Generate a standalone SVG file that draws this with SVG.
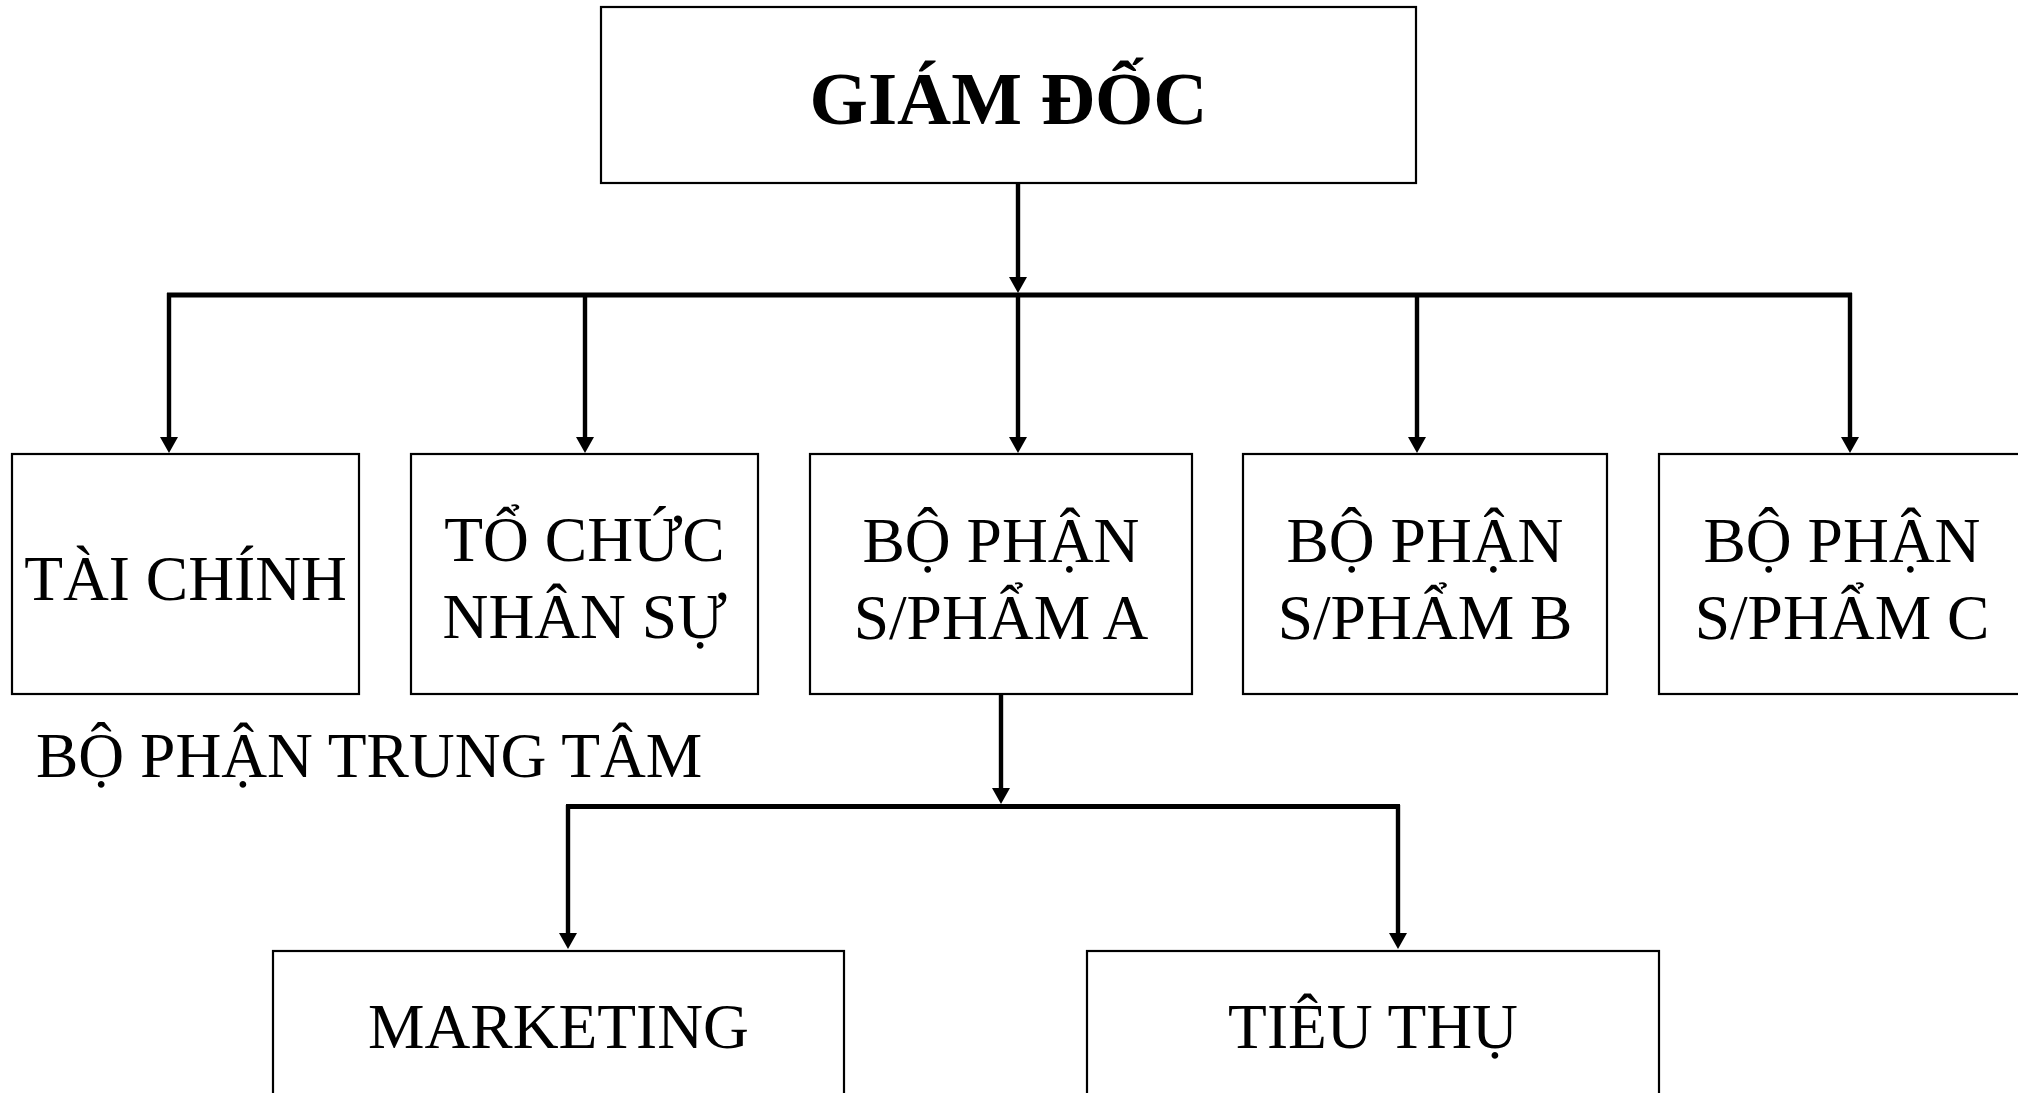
<svg xmlns="http://www.w3.org/2000/svg" width="2018" height="1093" viewBox="0 0 2018 1093">
<style>
  .box { fill: #ffffff; stroke: #000000; stroke-width: 2.2; }
  .t { font-family: "Liberation Serif", "Times New Roman", serif; font-size: 63.5px; fill: #000000; text-anchor: middle; }
  .title { font-family: "Liberation Serif", "Times New Roman", serif; font-size: 75px; font-weight: bold; fill: #000000; text-anchor: middle; }
  .bus { stroke: #000000; stroke-width: 5; fill: none; }
  .ln { stroke: #000000; stroke-width: 4.4; fill: none; }
</style>
<defs>
  <marker id="arr" markerUnits="userSpaceOnUse" markerWidth="16" markerHeight="18" viewBox="0 0 16 18" refX="0" refY="9" orient="auto">
    <path d="M0,0 L16,9 L0,18 z" fill="#000000"/>
  </marker>
</defs>
<rect width="2018" height="1093" fill="#ffffff"/>

<g id="connectors">
  <line class="ln" x1="1018" y1="183" x2="1018" y2="277" marker-end="url(#arr)"/>
  <line class="bus" x1="167" y1="295" x2="1852" y2="295"/>
  <line class="ln" x1="169" y1="293" x2="169" y2="437" marker-end="url(#arr)"/>
  <line class="ln" x1="585" y1="293" x2="585" y2="437" marker-end="url(#arr)"/>
  <line class="ln" x1="1018" y1="293" x2="1018" y2="437" marker-end="url(#arr)"/>
  <line class="ln" x1="1417" y1="293" x2="1417" y2="437" marker-end="url(#arr)"/>
  <line class="ln" x1="1850" y1="293" x2="1850" y2="437" marker-end="url(#arr)"/>
  <line class="ln" x1="1001" y1="695" x2="1001" y2="788" marker-end="url(#arr)"/>
  <line class="bus" x1="566" y1="806.5" x2="1400" y2="806.5"/>
  <line class="ln" x1="568" y1="805" x2="568" y2="933" marker-end="url(#arr)"/>
  <line class="ln" x1="1398" y1="805" x2="1398" y2="933" marker-end="url(#arr)"/>
</g>

<g id="giam-doc">
  <rect class="box" x="601" y="7" width="815" height="176"/>
  <text class="title" x="1008.5" y="124">GIÁM ĐỐC</text>
</g>

<g id="tai-chinh">
  <rect class="box" x="12" y="454" width="347" height="240"/>
  <text class="t" x="185.5" y="600">TÀI CHÍNH</text>
</g>

<g id="to-chuc-nhan-su">
  <rect class="box" x="411" y="454" width="347" height="240"/>
  <text class="t" x="584.5" y="561">TỔ CHỨC</text>
  <text class="t" x="584.5" y="638">NHÂN SỰ</text>
</g>

<g id="bo-phan-a">
  <rect class="box" x="810" y="454" width="382" height="240"/>
  <text class="t" x="1001" y="561.5">BỘ PHẬN</text>
  <text class="t" x="1001" y="639">S/PHẨM A</text>
</g>

<g id="bo-phan-b">
  <rect class="box" x="1243" y="454" width="364" height="240"/>
  <text class="t" x="1425" y="561.5">BỘ PHẬN</text>
  <text class="t" x="1425" y="639">S/PHẨM B</text>
</g>

<g id="bo-phan-c">
  <rect class="box" x="1659" y="454" width="366" height="240"/>
  <text class="t" x="1842" y="561.5">BỘ PHẬN</text>
  <text class="t" x="1842" y="639">S/PHẨM C</text>
</g>

<g id="bo-phan-trung-tam">
  <text class="t" x="36" y="777" style="text-anchor:start">BỘ PHẬN TRUNG TÂM</text>
</g>

<g id="marketing">
  <rect class="box" x="273" y="951" width="571" height="160"/>
  <text class="t" x="558.5" y="1048">MARKETING</text>
</g>

<g id="tieu-thu">
  <rect class="box" x="1087" y="951" width="572" height="160"/>
  <text class="t" x="1373" y="1048">TIÊU THỤ</text>
</g>
</svg>
